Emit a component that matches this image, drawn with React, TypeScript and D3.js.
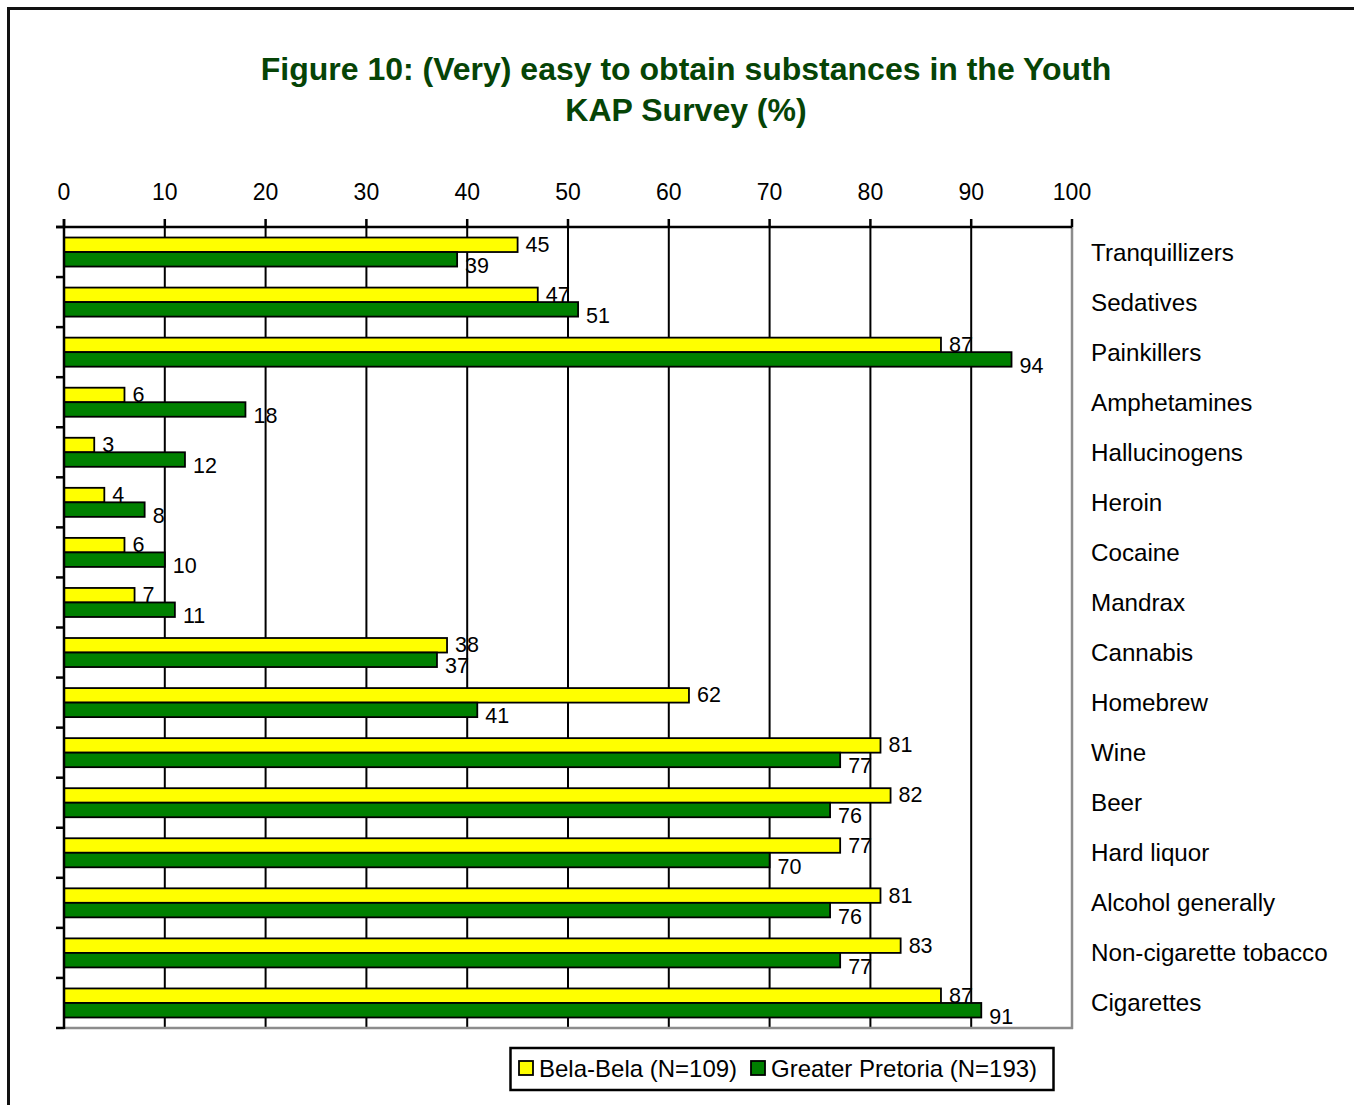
import React from "react";
import * as d3 from "d3";

const categories = [
  "Tranquillizers",
  "Sedatives",
  "Painkillers",
  "Amphetamines",
  "Hallucinogens",
  "Heroin",
  "Cocaine",
  "Mandrax",
  "Cannabis",
  "Homebrew",
  "Wine",
  "Beer",
  "Hard liquor",
  "Alcohol generally",
  "Non-cigarette tobacco",
  "Cigarettes",
];
const belaBela = [45, 47, 87, 6, 3, 4, 6, 7, 38, 62, 81, 82, 77, 81, 83, 87];
const greaterPretoria = [39, 51, 94, 18, 12, 8, 10, 11, 37, 41, 77, 76, 70, 76, 77, 91];
const seriesNames = ["Bela-Bela (N=109)", "Greater Pretoria (N=193)"];
const seriesColors = ["#FFFF00", "#008000"];
const xTicks = [0, 10, 20, 30, 40, 50, 60, 70, 80, 90, 100];
const titleLines = ["Figure 10: (Very) easy to obtain substances in the Youth", "KAP Survey (%)"];

const W = 1354;
const H = 1105;
const FONT = "Liberation Sans, Arial, sans-serif";

export default function App() {
  const left = 64, right = 1072, top = 227, bottom = 1028;
  const x = d3.scaleLinear().domain([0, 100]).range([left, right]);
  const y = d3
    .scaleBand<string>()
    .domain(categories)
    .range([top, bottom])
    .paddingInner(0.42)
    .paddingOuter(0.21);
  const step = y.step();
  const sub = d3.scaleBand<number>().domain([0, 1]).range([0, y.bandwidth()]);
  const series = [belaBela, greaterPretoria];

  const boundaries = d3.range(categories.length + 1).map((i) => top + i * step);

  return (
    <svg
      width={W}
      height={H}
      style={{ position: "absolute", left: 0, top: 0, background: "#fff" }}
      fontFamily={FONT}
    >
      <rect x={0} y={0} width={W} height={H} fill="#fff" />
      {/* outer frame */}
      <rect x={8.5} y={8.5} width={W + 20} height={H + 20} fill="none" stroke="#111" strokeWidth={3} />

      {/* title */}
      {titleLines.map((t, i) => (
        <text
          key={i}
          x={686}
          y={80 + i * 41}
          textAnchor="middle"
          fontSize={32}
          fontWeight="bold"
          fill="#064406"
        >
          {t}
        </text>
      ))}

      {/* tick labels */}
      {xTicks.map((t) => (
        <text key={t} x={x(t)} y={200} textAnchor="middle" fontSize={23} fill="#000">
          {t}
        </text>
      ))}

      {/* gridlines */}
      {xTicks.slice(1, -1).map((t) => (
        <line key={t} x1={x(t)} x2={x(t)} y1={top} y2={bottom} stroke="#000" strokeWidth={2} />
      ))}
      {/* right & bottom border gray */}
      <line x1={x(100)} x2={x(100)} y1={top} y2={bottom + 1} stroke="#8c8c8c" strokeWidth={2.5} />
      <line x1={left} x2={x(100) + 1} y1={bottom} y2={bottom} stroke="#8c8c8c" strokeWidth={2.5} />

      {/* bars */}
      {categories.map((c, ci) =>
        series.map((s, si) => (
          <rect
            key={c + si}
            x={x(0)}
            y={(y(c) as number) + (sub(si) as number)}
            width={x(s[ci]) - x(0)}
            height={sub.bandwidth()}
            fill={seriesColors[si]}
            stroke="#000"
            strokeWidth={1.8}
          />
        ))
      )}

      {/* data labels */}
      {categories.map((c, ci) =>
        series.map((s, si) => {
          const cy = (y(c) as number) + (sub(si) as number) + sub.bandwidth() / 2;
          return (
            <text
              key={"l" + c + si}
              x={x(s[ci]) + 8}
              y={cy + (si === 0 ? 7 : 13.5)}
              fontSize={21.5}
              fill="#000"
            >
              {s[ci]}
            </text>
          );
        })
      )}

      {/* top axis */}
      <line x1={56} x2={x(100)} y1={top} y2={top} stroke="#000" strokeWidth={2.5} />
      {xTicks.map((t) => (
        <line key={"t" + t} x1={x(t)} x2={x(t)} y1={219} y2={top} stroke="#000" strokeWidth={2.5} />
      ))}
      {/* left axis */}
      <line x1={left} x2={left} y1={top - 8} y2={bottom + 1} stroke="#000" strokeWidth={2.5} />
      {boundaries.map((b, i) => (
        <line key={"b" + i} x1={56} x2={left} y1={b} y2={b} stroke="#000" strokeWidth={2.5} />
      ))}

      {/* category labels */}
      {categories.map((c) => (
        <text
          key={"c" + c}
          x={1091}
          y={(y(c) as number) - step * 0.21 + step / 2 + 8.5}
          fontSize={24.2}
          fill="#000"
        >
          {c}
        </text>
      ))}

      {/* legend */}
      <rect x={510.5} y={1048} width={543} height={42} fill="#fff" stroke="#000" strokeWidth={2.5} />
      {[519, 751].map((lx, i) => (
        <g key={"lg" + i}>
          <rect x={lx} y={1061} width={14} height={14} fill={seriesColors[i]} stroke="#000" strokeWidth={1.8} />
          <text x={lx + 20} y={1076.5} fontSize={24} fill="#000">
            {seriesNames[i]}
          </text>
        </g>
      ))}
    </svg>
  );
}
